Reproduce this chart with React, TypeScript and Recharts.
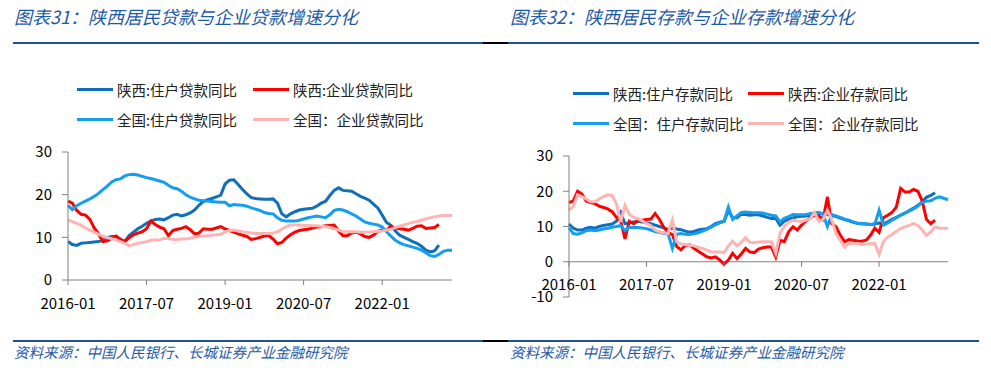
import React from 'react';
import { LineChart, Line, XAxis, YAxis, ReferenceLine } from 'recharts';

// month index 0 = 2016-01
const months = Array.from({ length: 89 }, (_, i) =>
  `${2016 + Math.floor(i / 12)}-${String((i % 12) + 1).padStart(2, '0')}`
);
const xTicks = [0, 18, 36, 54, 72];

// 图表31 贷款
const loanSxHousehold = [
  9.0, 8.3, 8.1, 8.6, 8.7, 8.8, 8.9, 9.0, 9.3, 9.9,
  10.2, 10.2, 9.6, 9.0, 10.4, 11.2, 12.0, 12.6, 13.3, 13.8,
  14.2, 14.3, 14.1, 14.6, 15.2, 15.4, 15.0, 15.3, 15.7, 16.4,
  17.5, 18.4, 18.8, 19.1, 19.5, 19.9, 22.5, 23.4, 23.5, 22.4,
  21.2, 20.2, 19.3, 19.1, 19.0, 18.9, 18.9, 19.0, 18.0, 15.5,
  14.8, 15.5, 16.0, 16.4, 16.6, 16.7, 16.8, 17.3, 18.0, 18.4,
  19.8, 21.0, 21.6, 21.0, 20.9, 20.8, 20.2, 19.6, 19.2, 18.7,
  17.8, 16.9, 15.2, 13.5, 12.8, 11.5, 10.5, 10.0, 9.5, 9.0,
  8.6, 7.9, 7.0, 6.6, 6.8, 8.2,
];
const loanSxCorp = [
  18.5, 18.0, 16.3, 15.4, 15.2, 14.2, 12.2, 10.8, 9.0, 9.2,
  9.8, 10.3, 9.4, 9.0, 9.9, 10.6, 11.0, 11.3, 12.0, 13.8,
  13.0, 12.4, 12.0, 10.4, 11.6, 11.9, 12.1, 12.5, 11.8, 10.8,
  11.0, 12.0, 11.9, 11.9, 12.2, 12.5, 12.0, 11.6, 11.2, 10.8,
  10.5, 10.2, 9.5, 9.7, 10.0, 10.3, 10.4, 9.6, 8.5, 8.8,
  9.8, 10.6, 11.2, 11.6, 11.8, 11.9, 12.2, 12.4, 12.5, 12.7,
  12.8, 12.9, 11.5, 10.4, 10.4, 11.0, 11.2, 10.8, 10.2, 10.0,
  10.5, 11.4, 11.7, 11.7, 12.6, 12.2, 12.0, 11.9, 11.7, 12.1,
  12.6, 12.7, 12.1, 12.2, 12.3, 13.0,
];
const loanCnHousehold = [
  17.5, 16.5, 17.4, 18.0, 18.5, 19.0, 19.6, 20.3, 21.2, 22.0,
  23.0, 23.5, 23.7, 24.4, 24.7, 24.8, 24.6, 24.3, 24.0, 23.8,
  23.5, 23.2, 22.9, 22.2, 21.6, 21.4, 20.8, 20.0, 19.4, 19.0,
  18.7, 18.6, 18.5, 18.4, 18.3, 18.2, 18.2, 17.4, 17.7, 17.6,
  17.5, 17.3, 16.9, 16.6, 16.3, 15.8, 15.6, 15.5, 14.6, 14.0,
  13.8, 13.8, 13.8, 14.0, 14.3, 14.6, 14.8, 15.0, 14.8, 14.6,
  15.3, 16.3, 16.6, 16.4, 16.0, 15.5, 15.0, 14.3, 13.6, 13.3,
  13.1, 12.9, 12.4, 11.3, 10.3, 9.3, 8.7, 8.3, 8.0, 7.7,
  7.4, 7.0, 6.4, 5.7, 5.5, 6.0, 6.7, 7.0, 7.0,
];
const loanCnCorp = [
  14.1, 13.7, 13.3, 12.8, 12.2, 11.7, 11.2, 10.7, 10.3, 9.9,
  9.7, 9.4, 9.0, 8.6, 8.0, 8.3, 8.6, 8.8, 9.0, 9.3,
  9.4, 9.4, 9.8, 9.7, 9.5, 9.5, 9.6, 9.6, 9.8, 10.0,
  10.2, 10.3, 10.4, 10.5, 10.6, 10.7, 11.3, 11.6, 11.7, 11.5,
  11.3, 11.2, 11.0, 10.9, 10.9, 10.9, 10.9, 11.0, 11.3, 11.9,
  12.5, 12.9, 12.9, 12.9, 12.8, 12.8, 12.7, 12.7, 12.6, 12.5,
  12.3, 12.0, 11.7, 11.3, 11.3, 11.3, 11.3, 11.2, 11.2, 11.2,
  11.3, 11.4, 11.5, 11.7, 11.9, 12.3, 12.6, 12.9, 13.2, 13.5,
  13.7, 14.0, 14.3, 14.6, 14.8, 15.0, 15.1, 15.1, 15.1,
];

// 图表32 存款
const depSxHousehold = [
  10.7, 9.5, 9.0, 9.0, 9.5, 9.8, 9.5, 10.0, 10.3, 10.5,
  10.7, 11.5, 14.0, 10.8, 11.0, 11.3, 11.5, 11.3, 11.0, 10.8,
  10.4, 10.0, 9.6, 9.2, 9.5, 9.3, 9.1, 8.7, 8.4, 8.6,
  9.0, 9.2, 9.4, 10.0, 10.8, 11.2, 11.5, 14.5, 12.5, 12.5,
  13.5, 13.4, 13.2, 13.3, 13.3, 13.0, 12.6, 12.3, 12.3, 10.4,
  11.5, 12.0, 12.4, 12.8, 12.9, 13.0, 13.2, 13.4, 13.6, 13.6,
  13.3, 13.2, 12.8, 12.4, 12.0, 11.6, 11.2, 10.9, 10.8, 10.7,
  10.6, 10.8, 11.0, 10.8, 11.3, 12.0, 12.6, 13.2, 13.8, 14.5,
  15.2, 16.0, 17.0, 18.3, 18.8, 19.6,
];
const depSxCorp = [
  16.8, 17.3, 20.0, 19.2, 17.2, 16.8, 16.5, 15.8, 15.4, 15.0,
  14.2, 12.6, 11.5, 6.5, 11.5, 10.8, 11.6, 11.8, 12.0, 12.1,
  13.7, 12.0, 9.8, 8.3, 7.7, 4.3, 3.4, 4.6, 4.8, 3.8,
  3.0, 2.2, 1.4, 1.1, 1.4, 0.5, -0.7, 0.5, 2.4, 0.9,
  2.2, 3.8, 2.8, 2.6, 3.6, 4.0, 4.2, 4.2, 1.4, 6.1,
  5.7, 8.5, 9.9, 9.0, 10.4, 11.5, 12.5, 13.2, 13.0, 12.0,
  18.4, 10.8, 9.9, 7.5, 5.7, 6.3, 6.1, 5.9, 5.8, 6.1,
  7.5, 9.5, 8.3, 12.5, 13.2, 14.0, 15.5, 20.8, 19.8, 19.8,
  20.5, 20.0, 17.3, 12.0, 10.8, 11.8,
];
const depCnHousehold = [
  9.6, 8.0, 7.8, 8.2, 8.8, 9.0, 8.8, 9.0, 9.3, 9.5,
  9.8, 10.0, 10.3, 8.8, 9.8, 9.7, 9.7, 9.6, 9.4, 9.0,
  8.6, 8.3, 8.1, 7.9, 3.8, 7.8, 8.0, 7.8, 7.7, 7.9,
  8.2, 8.7, 9.2, 9.8, 10.5, 11.0, 11.5, 15.5, 12.0, 13.0,
  14.0, 14.1, 14.0, 13.9, 13.9, 13.8, 13.5, 13.2, 13.0, 11.3,
  12.3, 12.8, 13.4, 13.3, 13.3, 13.4, 13.6, 13.8, 14.0, 13.5,
  10.0, 13.4, 13.0, 12.6, 12.1, 11.8, 11.3, 10.9, 10.8, 10.7,
  10.6, 10.6, 14.6, 10.4, 11.0, 11.8, 12.5, 13.2, 13.8, 14.4,
  15.0, 15.8, 16.8, 17.2, 17.3, 18.0, 18.4, 18.0, 17.6,
];
const depCnCorp = [
  14.6, 15.8, 19.0, 18.5, 17.8, 17.0, 17.0, 17.8, 18.5, 19.0,
  18.8, 16.5, 11.3, 16.0, 13.5, 12.6, 12.2, 11.6, 10.8, 10.2,
  9.0, 8.5, 8.2, 8.0, 11.8, 5.7, 5.0, 4.9, 4.7, 4.5,
  4.1, 3.8, 3.3, 2.8, 2.8, 2.8, 2.6, 4.5, 5.8, 4.5,
  5.5, 6.8, 5.5, 5.4, 5.6, 5.7, 5.7, 5.7, 2.4, 8.0,
  10.0, 11.2, 11.8, 11.6, 11.3, 11.8, 12.2, 14.0, 11.5, 12.0,
  14.6, 12.0, 8.0, 6.1, 4.2, 5.2, 5.2, 5.2, 4.9, 5.0,
  5.1, 5.2, 2.1, 5.7, 7.0, 7.8, 8.6, 9.4, 9.9, 10.3,
  10.8, 10.3, 9.0, 7.5, 8.5, 9.9, 9.6, 9.5, 9.4,
];

const DARK_BLUE = '#0f6fb9';
const LIGHT_BLUE = '#139ef0';
const RED = '#ff0000';
const PINK = '#ffb4b4';
const AXIS = '#808080';
const HEAD_BLUE = '#1e5aa8';
const RULE_BLUE = '#1f4e9a';
const FONT = '"Noto Sans CJK SC", "Noto Sans", sans-serif';

const buildRows = (series: Record<string, number[]>) =>
  months.map((_, i) => {
    const row: Record<string, number | undefined> = { i };
    Object.keys(series).forEach((k) => {
      row[k] = series[k][i];
    });
    return row;
  });

const loanRows = buildRows({
  a: loanSxHousehold,
  b: loanSxCorp,
  c: loanCnHousehold,
  d: loanCnCorp,
});
const depRows = buildRows({
  a: depSxHousehold,
  b: depSxCorp,
  c: depCnHousehold,
  d: depCnCorp,
});

const seriesStyle = [
  { key: 'a', color: DARK_BLUE },
  { key: 'b', color: RED },
  { key: 'c', color: LIGHT_BLUE },
  { key: 'd', color: PINK },
];

// date tick drawn at a given axis line (y = 0 line for the deposit chart)
const DateTick = ({ x, payload, axisY }: any) => (
  <g>
    <line x1={x} x2={x} y1={axisY} y2={axisY + 5} stroke={AXIS} />
    <text
      x={x}
      y={axisY + 22}
      textAnchor="middle"
      dominantBaseline="central"
      fontSize={15}
      fontFamily={FONT}
      fill="#000"
    >
      {months[payload.value]}
    </text>
  </g>
);

const Legend = ({ items, left, top }: any) => (
  <>
    {items.map((it: any, idx: number) => (
      <div
        key={idx}
        style={{
          position: 'absolute',
          left: left[idx % 2],
          top: top[Math.floor(idx / 2)] - 10,
          height: 20,
          display: 'flex',
          alignItems: 'center',
          whiteSpace: 'nowrap',
        }}
      >
        <span style={{ width: 36, height: 3, background: it.color, marginRight: 4 }} />
        <span style={{ fontSize: 14.5, color: '#222', fontFamily: FONT }}>{it.name}</span>
      </div>
    ))}
  </>
);

const Rule = ({ top }: { top: number }) => (
  <>
    <div style={{ position: 'absolute', left: 13, top, width: 470, height: 1.5, background: RULE_BLUE }} />
    <div style={{ position: 'absolute', left: 483, top, width: 25, height: 1.5, background: '#000' }} />
    <div style={{ position: 'absolute', left: 508, top, width: 471, height: 1.5, background: RULE_BLUE }} />
  </>
);

const textStyle = (left: number, top: number, size: number): React.CSSProperties => ({
  position: 'absolute',
  left,
  top,
  fontSize: size,
  fontStyle: 'italic',
  color: HEAD_BLUE,
  fontFamily: FONT,
  whiteSpace: 'nowrap',
  lineHeight: '22px',
});

// deposit chart: plot from y=26 to y=167 in chart coords, domain -10..30
const DEP_TOP = 26;
const DEP_H = 141;
const DEP_ZERO = DEP_TOP + (DEP_H * 30) / 40;

export default function App() {
  return (
    <div
      style={{
        position: 'absolute',
        left: 0,
        top: 0,
        width: 991,
        height: 370,
        background: '#fff',
        fontFamily: FONT,
      }}
    >
      <div style={textStyle(14, 5, 18)}>图表31：陕西居民贷款与企业贷款增速分化</div>
      <div style={textStyle(510, 5, 18)}>图表32：陕西居民存款与企业存款增速分化</div>
      <Rule top={42} />

      <Legend
        left={[77, 253]}
        top={[89, 119]}
        items={[
          { name: '陕西:住户贷款同比', color: DARK_BLUE },
          { name: '陕西:企业贷款同比', color: RED },
          { name: '全国:住户贷款同比', color: LIGHT_BLUE },
          { name: '全国：企业贷款同比', color: PINK },
        ]}
      />
      <Legend
        left={[573, 748]}
        top={[93, 123]}
        items={[
          { name: '陕西:住户存款同比', color: DARK_BLUE },
          { name: '陕西:企业存款同比', color: RED },
          { name: '全国：住户存款同比', color: LIGHT_BLUE },
          { name: '全国：企业存款同比', color: PINK },
        ]}
      />

      {/* 图表31 */}
      <div style={{ position: 'absolute', left: 0, top: 130 }}>
        <LineChart
          width={470}
          height={190}
          data={loanRows}
          margin={{ top: 22, right: 18, left: 0, bottom: 10 }}
        >
          <XAxis
            dataKey="i"
            type="number"
            domain={[0, 88]}
            ticks={xTicks}
            interval={0}
            height={30}
            axisLine={{ stroke: AXIS }}
            tickLine={false}
            tick={(p: any) => <DateTick {...p} axisY={150} />}
          />
          <YAxis
            width={68}
            domain={[0, 30]}
            ticks={[0, 10, 20, 30]}
            tickSize={6}
            tickMargin={10}
            axisLine={{ stroke: AXIS }}
            tickLine={{ stroke: AXIS }}
            tick={{ fontSize: 15, fill: '#000', fontFamily: FONT }}
          />
          {seriesStyle.map((s) => (
            <Line
              key={s.key}
              type="linear"
              dataKey={s.key}
              stroke={s.color}
              strokeWidth={3}
              dot={false}
              isAnimationActive={false}
            />
          ))}
        </LineChart>
      </div>

      {/* 图表32 */}
      <div style={{ position: 'absolute', left: 500, top: 130 }}>
        <LineChart
          width={470}
          height={190}
          data={depRows}
          margin={{ top: DEP_TOP, right: 22, left: 0, bottom: 10 }}
        >
          <XAxis
            dataKey="i"
            type="number"
            domain={[0, 88]}
            ticks={xTicks}
            interval={0}
            height={190 - DEP_TOP - DEP_H - 10}
            axisLine={false}
            tickLine={false}
            tick={(p: any) => <DateTick {...p} axisY={DEP_ZERO} />}
          />
          <YAxis
            width={69}
            domain={[-10, 30]}
            ticks={[-10, 0, 10, 20, 30]}
            tickSize={6}
            tickMargin={10}
            axisLine={{ stroke: AXIS }}
            tickLine={{ stroke: AXIS }}
            tick={{ fontSize: 15, fill: '#000', fontFamily: FONT }}
          />
          <ReferenceLine y={0} stroke={AXIS} />
          {seriesStyle.map((s) => (
            <Line
              key={s.key}
              type="linear"
              dataKey={s.key}
              stroke={s.color}
              strokeWidth={3}
              dot={false}
              isAnimationActive={false}
            />
          ))}
        </LineChart>
      </div>

      <Rule top={340} />
      <div style={textStyle(14, 341, 14.5)}>资料来源：中国人民银行、长城证券产业金融研究院</div>
      <div style={textStyle(510, 341, 14.5)}>资料来源：中国人民银行、长城证券产业金融研究院</div>
    </div>
  );
}
